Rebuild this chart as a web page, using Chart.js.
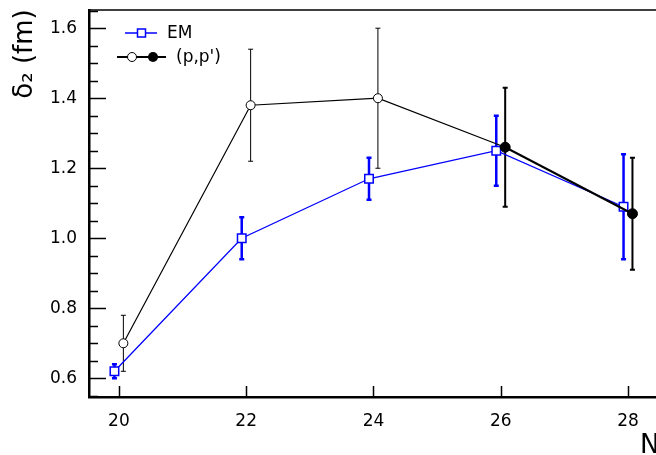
<!DOCTYPE html>
<html>
<head>
<meta charset="utf-8">
<script src="https://cdn.jsdelivr.net/npm/chart.js@4.4.1/dist/chart.umd.min.js"></script>
<style>
  html, body { margin: 0; padding: 0; background: #fff; overflow: hidden; }
  #wrap { width: 656px; height: 455px; position: relative; }
  canvas { display: block; }
</style>
</head>
<body>
<div id="wrap"><canvas id="deltaChart"></canvas></div>
<script>
// neutron number and delta_2 values
const N = [20, 22, 24, 26, 28];
const emVals = [0.62, 1.00, 1.17, 1.25, 1.09];
const emErr = [0.02, 0.06, 0.06, 0.10, 0.15];
const ppVals = [0.70, 1.38, 1.40, 1.26, 1.07];
const ppErr = [0.08, 0.16, 0.20, 0.17, 0.16];
const ppFilled = [false, false, false, true, true];
const yMajor = [0.6, 0.8, 1.0, 1.2, 1.4, 1.6];

// small horizontal shift so the two series don't sit on top of each other
const emShift = -0.07;
const ppShift = 0.07;

const FONT = "'DejaVu Sans', sans-serif";
const blue = '#0000ff';

const emPoints = N.map((n, i) => ({ x: n + emShift, y: emVals[i] }));
const ppPoints = N.map((n, i) => ({ x: n + ppShift, y: ppVals[i] }));

function isMajor(v) {
  return yMajor.some(m => Math.abs(m - v) < 1e-6);
}

// no extra room for overhanging labels, the frame sits where layout.padding says
function noPad(s) {
  s.paddingTop = 0;
  s.paddingBottom = 0;
  s.paddingLeft = 0;
  s.paddingRight = 0;
}

function errBar(ctx, x, y1, y2, color, width, cap) {
  ctx.save();
  ctx.strokeStyle = color;
  ctx.lineWidth = width;
  ctx.beginPath();
  ctx.moveTo(x, y1); ctx.lineTo(x, y2);
  ctx.moveTo(x - cap, y1); ctx.lineTo(x + cap, y1);
  ctx.moveTo(x - cap, y2); ctx.lineTo(x + cap, y2);
  ctx.stroke();
  ctx.restore();
}

const decorations = {
  id: 'decorations',
  beforeDatasetsDraw(chart) {
    const ctx = chart.ctx;
    const xs = chart.scales.x, ys = chart.scales.y;
    emPoints.forEach((p, i) => {
      errBar(ctx, xs.getPixelForValue(p.x), ys.getPixelForValue(p.y + emErr[i]),
        ys.getPixelForValue(p.y - emErr[i]), blue, 2.5, 2.5);
    });
    ppPoints.forEach((p, i) => {
      errBar(ctx, xs.getPixelForValue(p.x), ys.getPixelForValue(p.y + ppErr[i]),
        ys.getPixelForValue(p.y - ppErr[i]), '#000', ppFilled[i] ? 2 : 1, 2.5);
    });
  },
  afterDraw(chart) {
    const ctx = chart.ctx;
    const a = chart.chartArea;
    const xs = chart.scales.x, ys = chart.scales.y;
    ctx.save();

    // top frame line
    ctx.strokeStyle = '#000';
    ctx.lineWidth = 1.5;
    ctx.beginPath();
    ctx.moveTo(a.left, a.top); ctx.lineTo(a.right, a.top);
    ctx.stroke();

    // inward tick marks
    ctx.lineWidth = 1.5;
    ctx.beginPath();
    ys.ticks.forEach(t => {
      const y = Math.round(ys.getPixelForValue(t.value)) + 0.5;
      const len = isMajor(t.value) ? 17 : 9;
      ctx.moveTo(a.left, y); ctx.lineTo(a.left + len, y);
    });
    xs.ticks.forEach(t => {
      const x = Math.round(xs.getPixelForValue(t.value)) + 0.5;
      ctx.moveTo(x, a.bottom); ctx.lineTo(x, a.bottom - 11);
    });
    ctx.stroke();

    // legend
    ctx.strokeStyle = blue;
    ctx.lineWidth = 1.5;
    ctx.beginPath();
    ctx.moveTo(125, 33); ctx.lineTo(157, 33);
    ctx.stroke();
    ctx.fillStyle = '#fff';
    ctx.fillRect(137.5, 29, 8, 8);
    ctx.strokeRect(137.5, 29, 8, 8);

    ctx.strokeStyle = '#000';
    ctx.lineWidth = 2;
    ctx.beginPath();
    ctx.moveTo(117, 57); ctx.lineTo(166, 57);
    ctx.stroke();
    ctx.lineWidth = 1;
    ctx.beginPath();
    ctx.arc(132, 57, 4.5, 0, Math.PI * 2);
    ctx.fillStyle = '#fff';
    ctx.fill();
    ctx.stroke();
    ctx.beginPath();
    ctx.arc(153, 57, 5, 0, Math.PI * 2);
    ctx.fillStyle = '#000';
    ctx.fill();

    ctx.fillStyle = '#000';
    ctx.font = '17px ' + FONT;
    ctx.textAlign = 'left';
    ctx.textBaseline = 'middle';
    ctx.fillText('EM', 167, 34);
    ctx.fillText("(p,p')", 176, 58);

    // axis titles
    ctx.font = '26px ' + FONT;
    ctx.textBaseline = 'alphabetic';
    ctx.fillText('N', 640, 453);

    ctx.translate(32, 54);
    ctx.rotate(-Math.PI / 2);
    ctx.font = '26px ' + FONT;
    ctx.textAlign = 'center';
    ctx.fillText('δ₂ (fm)', 0, 0);
    ctx.restore();
  }
};

new Chart(document.getElementById('deltaChart'), {
  type: 'scatter',
  data: {
    datasets: [
      {
        label: "(p,p')",
        data: ppPoints,
        showLine: true,
        borderColor: '#000',
        borderWidth: 1,
        segment: {
          borderWidth: c => (c.p0DataIndex >= 3 ? 2 : 1.2)
        },
        pointStyle: 'circle',
        pointRadius: ppFilled.map(f => (f ? 5 : 4.5)),
        pointBorderWidth: 1,
        pointBorderColor: '#000',
        pointBackgroundColor: ppFilled.map(f => (f ? '#000' : '#fff')),
        order: 0
      },
      {
        label: 'EM',
        data: emPoints,
        showLine: true,
        borderColor: blue,
        borderWidth: 1.3,
        pointStyle: 'rect',
        pointRadius: 6,
        pointBorderWidth: 1.5,
        pointBorderColor: blue,
        pointBackgroundColor: '#fff',
        order: 1
      }
    ]
  },
  options: {
    responsive: true,
    maintainAspectRatio: false,
    animation: false,
    layout: { autoPadding: false, padding: { top: 10, right: 0, left: 0, bottom: 0 } },
    plugins: {
      legend: { display: false },
      tooltip: { enabled: false }
    },
    scales: {
      x: {
        type: 'linear',
        min: 19.53,
        max: 28.44,
        afterFit: s => { s.height = 58; noPad(s); },
        grid: { display: false, drawTicks: false },
        border: { display: true, color: '#000', width: 2.5 },
        ticks: {
          stepSize: 2,
          includeBounds: false,
          autoSkip: false,
          maxRotation: 0,
          padding: 14,
          color: '#000',
          font: { family: FONT, size: 17 }
        }
      },
      y: {
        type: 'linear',
        min: 0.5466,
        max: 1.652,
        afterFit: s => { s.width = 89; noPad(s); },
        grid: { display: false, drawTicks: false },
        border: { display: true, color: '#000', width: 2.5 },
        ticks: {
          stepSize: 0.05,
          includeBounds: false,
          autoSkip: false,
          padding: 12,
          color: '#000',
          font: { family: FONT, size: 17 },
          callback: v => (isMajor(v) ? v.toFixed(1) : '')
        }
      }
    }
  },
  plugins: [decorations]
});
</script>
</body>
</html>
